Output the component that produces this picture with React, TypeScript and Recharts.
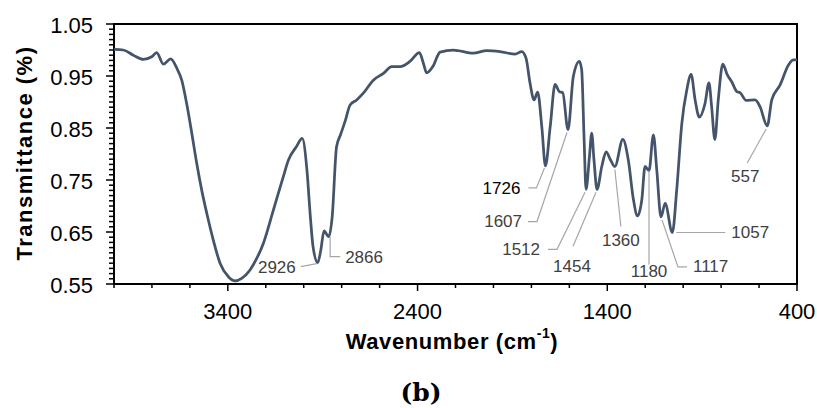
import React from 'react';
import { LineChart, Line, XAxis, YAxis, ReferenceArea, ReferenceDot } from 'recharts';

// Spectrum (wavenumber in cm-1, transmittance)
const wavenumbers = [
  4000, 3951, 3898, 3846, 3801, 3775, 3740, 3701, 3669, 3643, 3617, 3590, 3564, 3538, 3511, 3477,
  3441, 3397, 3362, 3327, 3283, 3266, 3213, 3160, 3108, 3081, 3037, 3008, 2983, 2965, 2951, 2926,
  2910, 2893, 2868, 2850, 2827, 2806, 2780, 2756, 2721, 2686, 2633, 2580, 2536, 2492, 2440, 2390,
  2369, 2352, 2320, 2281, 2211, 2106, 2035, 1965, 1886, 1851, 1828, 1807, 1786, 1767, 1745, 1726,
  1701, 1675, 1653, 1635, 1607, 1579, 1547, 1535, 1522, 1512, 1494, 1482, 1470, 1454, 1429, 1406,
  1382, 1360, 1318, 1289, 1262, 1241, 1218, 1201, 1180, 1157, 1139, 1117, 1095, 1057, 1034, 1007,
  981, 958, 937, 915, 885, 864, 850, 833, 815, 791, 767, 744, 717, 700, 668, 621,
  595, 557, 533, 489, 445, 419, 400,
];
const transmittance = [
  1.001, 1.0, 0.99, 0.982, 0.987, 0.995, 0.973, 0.983, 0.965, 0.942, 0.897, 0.84, 0.782, 0.731, 0.686, 0.635,
  0.59, 0.564, 0.556, 0.561, 0.577, 0.587, 0.628, 0.692, 0.756, 0.788, 0.815, 0.83, 0.769, 0.679, 0.622, 0.591,
  0.615, 0.652, 0.641, 0.679, 0.814, 0.837, 0.865, 0.894, 0.904, 0.917, 0.942, 0.955, 0.968, 0.968, 0.978, 0.995,
  0.974, 0.956, 0.968, 0.996, 1.0, 0.994, 0.999, 0.997, 0.992, 0.997, 0.984, 0.936, 0.904, 0.919, 0.852, 0.777,
  0.852, 0.934, 0.92, 0.918, 0.847, 0.949, 0.978, 0.962, 0.827, 0.732, 0.795, 0.84, 0.788, 0.732, 0.776, 0.804,
  0.788, 0.776, 0.828, 0.788, 0.712, 0.681, 0.712, 0.776, 0.768, 0.837, 0.769, 0.679, 0.705, 0.649, 0.731, 0.859,
  0.923, 0.953, 0.904, 0.871, 0.897, 0.937, 0.891, 0.828, 0.904, 0.973, 0.952, 0.939, 0.92, 0.918, 0.903, 0.904,
  0.891, 0.854, 0.904, 0.933, 0.971, 0.981, 0.981,
];

// Axis ticks
const xTickValues = [4000, 3800, 3600, 3400, 3200, 3000, 2800, 2600, 2400, 2200, 2000, 1800, 1600, 1400, 1200, 1000, 800, 600, 400];
const xTickLabels = [3400, 2400, 1400, 400];
const yTickLabels = [0.55, 0.65, 0.75, 0.85, 0.95, 1.05];
const yTickValues = Array.from({ length: 51 }, (_, i) => (55 + i) / 100);

// Annotated peaks
const peakWavenumbers = [2926, 2866, 1726, 1607, 1512, 1454, 1360, 1180, 1117, 1057, 557];
const peakTransmittance = [0.591, 0.641, 0.777, 0.847, 0.732, 0.732, 0.776, 0.768, 0.679, 0.649, 0.854];

// Leader line / label layout (pixel offsets from the peak point)
type Layout = { path: [number, number][]; tx: number; ty: number; anchor: 'start' | 'middle' | 'end'; color?: string };
const peakLabelLayout: Layout[] = [
  { path: [[-1, 1], [-17, 4]], tx: -22, ty: 5, anchor: 'end' },
  { path: [[1, 0], [1, 20], [11, 20]], tx: 16, ty: 21, anchor: 'start' },
  { path: [[-1, 2], [-9, 22], [-17, 22]], tx: -25, ty: 23, anchor: 'end', color: '#000000' },
  { path: [[-1, 3], [-31, 92], [-40, 92]], tx: -46, ty: 92, anchor: 'end' },
  { path: [[-1, 3], [-29, 60], [-38, 60]], tx: -46, ty: 60, anchor: 'end' },
  { path: [[-1, 3], [-24, 57]], tx: -25, ty: 77, anchor: 'middle' },
  { path: [[0, 3], [6, 60]], tx: 6, ty: 74, anchor: 'middle' },
  { path: [[0, 0], [0, 94]], tx: 0, ty: 101, anchor: 'middle' },
  { path: [[1, 3], [17, 50], [26, 50]], tx: 32, ty: 50, anchor: 'start' },
  { path: [[4, 0], [53, 0]], tx: 59, ty: 0, anchor: 'start' },
  { path: [[-1, 3], [-20, 37]], tx: -22, ty: 51, anchor: 'middle' },
];

const data = wavenumbers.map((w, i) => ({ w, t: transmittance[i] }));

const FONT = '"Liberation Sans", Arial, sans-serif';

const XTick = (props: any) => {
  const { x, y, payload } = props;
  const v = payload.value;
  const major = xTickLabels.includes(v);
  return (
    <g>
      <line x1={x} x2={x} y1={y} y2={y + (major ? 7 : 4)} stroke="#000" strokeWidth={1.5} />
      {major && (
        <text x={x} y={y + 27} textAnchor="middle" dominantBaseline="central" fontSize={22} fontFamily={FONT} fill="#000">
          {v}
        </text>
      )}
    </g>
  );
};

const YTick = (props: any) => {
  const { x, y, payload } = props;
  const v = payload.value;
  const major = yTickLabels.some((m) => Math.abs(m - v) < 1e-6);
  return (
    <g>
      <line x1={x - (major ? 8 : 5)} x2={x} y1={y} y2={y} stroke="#000" strokeWidth={1.5} />
      {major && (
        <text x={x - 21} y={y + 1} textAnchor="end" dominantBaseline="central" fontSize={22} fontFamily={FONT} fill="#000">
          {v.toFixed(2)}
        </text>
      )}
    </g>
  );
};

const makePeakShape = (label: number, layout: Layout) => (props: any) => {
  const { cx, cy } = props;
  const pts = layout.path.map(([dx, dy]) => `${cx + dx},${cy + dy}`).join(' ');
  return (
    <g>
      <polyline points={pts} fill="none" stroke="#a6a6a6" strokeWidth={1.2} />
      <text
        x={cx + layout.tx}
        y={cy + layout.ty}
        textAnchor={layout.anchor}
        dominantBaseline="central"
        fontSize={17}
        fontFamily={FONT}
        fill={layout.color || '#404040'}
      >
        {label}
      </text>
    </g>
  );
};

const Titles = () => (
  <g>
    <text
      x={24}
      y={153}
      transform="rotate(-90 24 153)"
      textAnchor="middle"
      dominantBaseline="central"
      fontSize={22}
      fontWeight="bold"
      letterSpacing={1.5}
      fontFamily={FONT}
      fill="#000"
    >
      Transmittance (%)
    </text>
    <text x={452} y={341} textAnchor="middle" dominantBaseline="central" fontSize={22} fontWeight="bold" letterSpacing={0.6} fontFamily={FONT} fill="#000">
      Wavenumber (cm
      <tspan fontSize={14} dy={-8}>-1</tspan>
      <tspan dy={8}>)</tspan>
    </text>
    <text x={421} y={392} textAnchor="middle" dominantBaseline="central" fontSize={25} fontWeight="bold" fontFamily='"DejaVu Serif", serif' fill="#000">
      (b)
    </text>
  </g>
);

export default function App() {
  return (
    <div style={{ position: 'absolute', left: 0, top: 0, width: 817, height: 408, background: '#fff' }}>
      <LineChart width={817} height={408} data={data} margin={{ top: 24, right: 20, bottom: 0, left: 0 }}>
        <XAxis
          dataKey="w"
          type="number"
          domain={[400, 4000]}
          reversed
          ticks={xTickValues}
          interval={0}
          tick={<XTick />}
          tickLine={false}
          tickSize={0}
          tickMargin={0}
          axisLine={false}
          height={124}
          allowDataOverflow
          label={{ content: () => <Titles /> }}
        />
        <YAxis
          type="number"
          domain={[0.55, 1.05]}
          ticks={yTickValues}
          interval={0}
          tick={<YTick />}
          tickLine={false}
          tickSize={0}
          tickMargin={0}
          axisLine={false}
          width={114}
          allowDataOverflow
        />
        <Line type="monotone" dataKey="t" stroke="#44546A" strokeWidth={2.75} dot={false} isAnimationActive={false} />
        <ReferenceArea x1={4000} x2={400} y1={0.55} y2={1.05} fill="none" fillOpacity={0} stroke="#000" strokeWidth={2} />
        {peakWavenumbers.map((w, i) => (
          <ReferenceDot
            key={w}
            x={w}
            y={peakTransmittance[i]}
            r={2}
            shape={makePeakShape(w, peakLabelLayout[i])}
          />
        ))}
      </LineChart>
    </div>
  );
}
